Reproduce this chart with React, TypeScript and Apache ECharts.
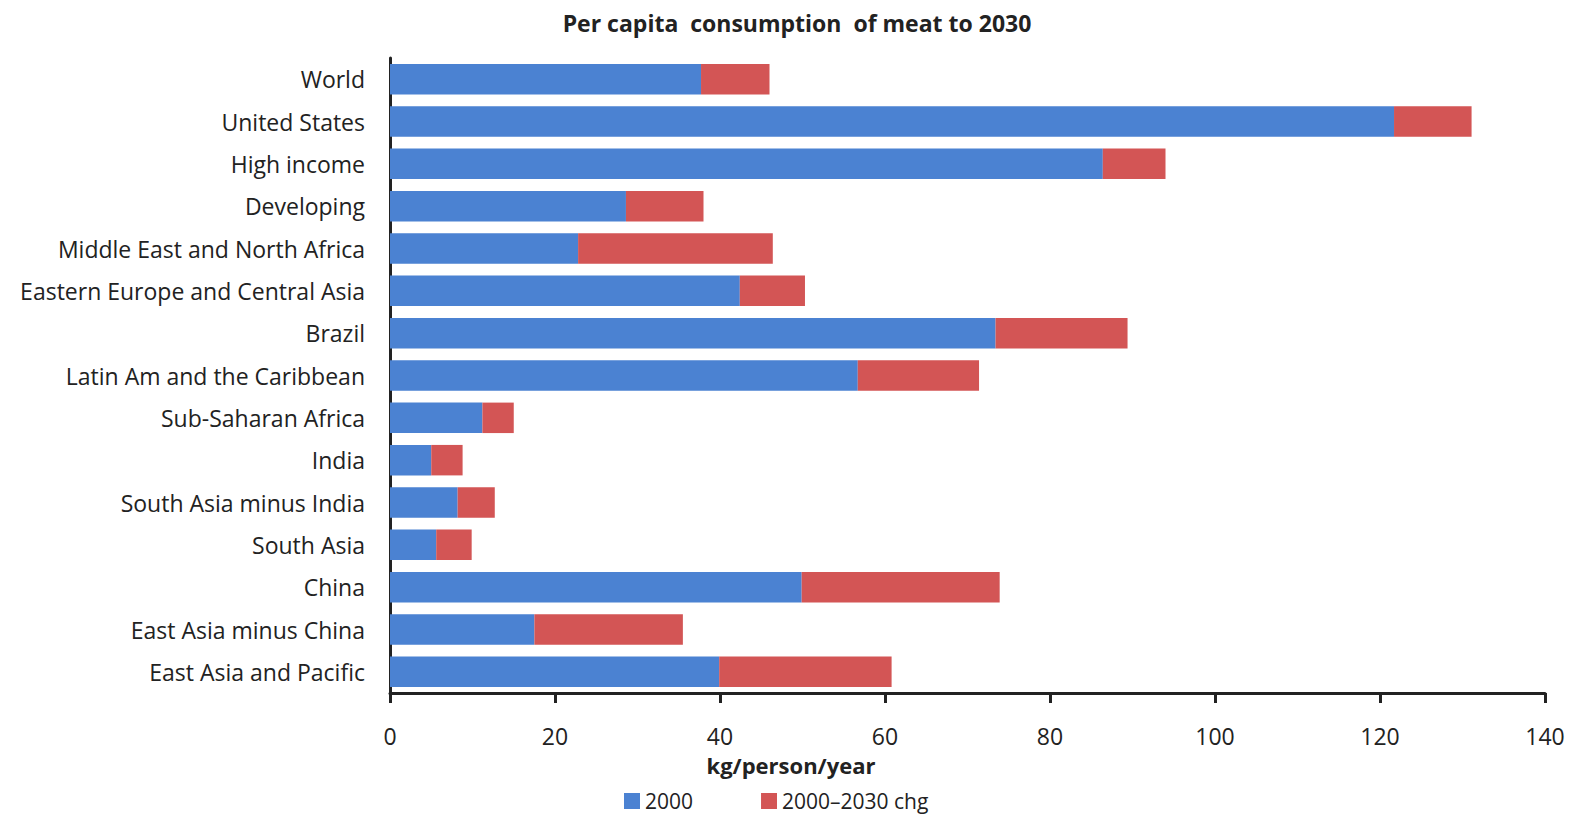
import React, { useEffect, useRef } from "react";
import * as echarts from "echarts";

const categories = [
  "World",
  "United States",
  "High income",
  "Developing",
  "Middle East and North Africa",
  "Eastern Europe and Central Asia",
  "Brazil",
  "Latin Am and the Caribbean",
  "Sub-Saharan Africa",
  "India",
  "South Asia minus India",
  "South Asia",
  "China",
  "East Asia minus China",
  "East Asia and Pacific",
];

const values2000 = [37.7, 121.7, 86.4, 28.6, 22.8, 42.4, 73.4, 56.7, 11.2, 5.0, 8.2, 5.6, 49.9, 17.5, 39.9];
const changes2000to2030 = [8.3, 9.4, 7.6, 9.4, 23.6, 7.9, 16.0, 14.7, 3.8, 3.8, 4.5, 4.3, 24.0, 18.0, 20.9];

const xTicks = { min: 0, max: 140, interval: 20 };

const FONT = "'Open Sans', 'Noto Sans', sans-serif";
const INK = "#222";

export default function App() {
  const ref = useRef<HTMLDivElement>(null);
  useEffect(() => {
    if (!ref.current) return;
    const chart = echarts.init(ref.current, undefined, { renderer: "svg" });
    chart.setOption({
      animation: false,
      backgroundColor: "#ffffff",
      title: [
        {
          text: "Per capita  consumption  of meat to 2030",
          left: 792,
          textAlign: "center",
          top: 6,
          textStyle: { fontFamily: FONT, fontSize: 23, fontWeight: "bold", color: INK },
        },
        {
          text: "kg/person/year",
          left: 791,
          textAlign: "center",
          top: 752,
          padding: 0,
          textStyle: { fontFamily: FONT, fontSize: 22, fontWeight: "bold", color: INK, lineHeight: 26 },
        },
      ],
      legend: {
        left: 624,
        top: 789,
        padding: 0,
        itemWidth: 16,
        itemHeight: 16,
        itemGap: 68,
        icon: "rect",
        textStyle: { fontFamily: FONT, fontSize: 21, color: INK, lineHeight: 24 },
        data: ["2000", "2000\u20132030 chg"],
      },
      grid: { left: 390, right: 32, top: 58, bottom: 122, containLabel: false },
      xAxis: {
        type: "value",
        min: xTicks.min,
        max: xTicks.max,
        interval: xTicks.interval,
        axisLine: { show: true, lineStyle: { color: INK, width: 3 } },
        axisTick: { show: true, length: 10, lineStyle: { color: INK, width: 3 } },
        axisLabel: { fontFamily: FONT, fontSize: 23, color: INK, margin: 31 },
        splitLine: { show: false },
      },
      yAxis: {
        type: "category",
        inverse: true,
        data: categories,
        axisLine: { show: true, lineStyle: { color: INK, width: 3 } },
        axisTick: { show: false },
        axisLabel: { fontFamily: FONT, fontSize: 23, color: INK, margin: 25 },
      },
      series: [
        {
          name: "2000",
          type: "bar",
          stack: "total",
          data: values2000,
          barCategoryGap: "28%",
          itemStyle: { color: "#4b82d2" },
        },
        {
          name: "2000\u20132030 chg",
          type: "bar",
          stack: "total",
          data: changes2000to2030,
          barCategoryGap: "28%",
          itemStyle: { color: "#d35555" },
        },
      ],
    });
    return () => chart.dispose();
  }, []);
  return <div ref={ref} style={{ width: 1577, height: 815, position: "absolute", left: 0, top: 0 }} />;
}
